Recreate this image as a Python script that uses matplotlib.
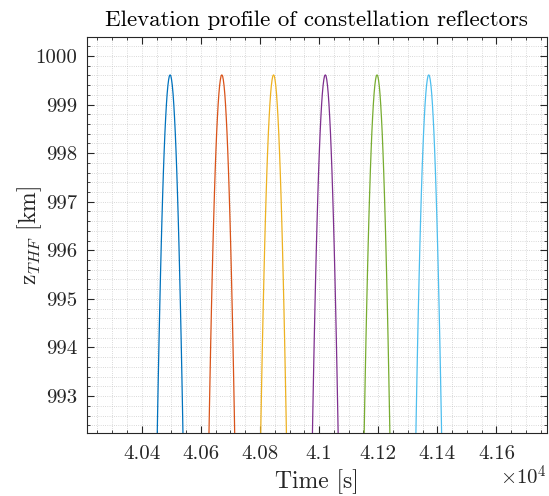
import matplotlib
matplotlib.use("Agg")
import matplotlib.pyplot as plt
from matplotlib.ticker import MultipleLocator, FuncFormatter
import numpy as np

plt.rcParams['font.family'] = 'serif'
plt.rcParams['font.serif'] = ['cmr10', 'DejaVu Serif']
plt.rcParams['mathtext.fontset'] = 'cm'
plt.rcParams['axes.formatter.use_mathtext'] = True

# Peak times of each reflector pass [s]
peak_times = [40496, 40671, 40846, 41021, 41196, 41371]
# Half profile: time offset from peak [s] and elevation [km]
half_offsets = [0, 2.5, 5, 7.5, 10, 12.5, 15, 17.5, 20, 22.5, 25, 27.5, 30,
                32.5, 35, 37.5, 40, 42.5, 45]
half_elev = [999.61, 999.59, 999.51, 999.39, 999.22, 999.00, 998.73, 998.42,
             998.05, 997.64, 997.17, 996.66, 996.10, 995.49, 994.83, 994.13,
             993.37, 992.57, 991.71]
colors = ['#0072BD', '#D95319', '#EDB120', '#7E2F8E', '#77AC30', '#4DBEEE']
xlim = (40214, 41770)
ylim = (992.24, 1000.39)

axc = '#262626'
fig = plt.figure(figsize=(5.49, 4.96), dpi=100)
ax = fig.add_axes([0.158, 0.127, 0.9958 - 0.158, 0.9254 - 0.127])

off = np.concatenate([-np.array(half_offsets[:0:-1]), np.array(half_offsets)])
elev = np.concatenate([np.array(half_elev[:0:-1]), np.array(half_elev)])
for t0, c in zip(peak_times, colors):
    ax.plot(t0 + off, elev, color=c, lw=0.9)

ax.set_xlim(*xlim)
ax.set_ylim(*ylim)
ax.xaxis.set_major_locator(MultipleLocator(200))
ax.xaxis.set_minor_locator(MultipleLocator(50))
ax.yaxis.set_major_locator(MultipleLocator(1))
ax.yaxis.set_minor_locator(MultipleLocator(0.2))
ax.xaxis.set_major_formatter(FuncFormatter(lambda v, p: '%g' % round(v / 1e4, 4)))
ax.yaxis.set_major_formatter(FuncFormatter(lambda v, p: '%g' % round(v, 4)))

ax.grid(which='both', linestyle=':', color='#b8b8b8', lw=0.6, alpha=0.7)
ax.set_axisbelow(True)
ax.tick_params(which='both', direction='in', top=True, right=True, colors=axc,
               labelsize=15, labelcolor=axc)
ax.tick_params(which='major', length=5, width=0.8)
ax.tick_params(axis='x', which='major', pad=9)
ax.tick_params(axis='y', which='major', pad=7)
ax.tick_params(which='minor', length=2.5, width=0.6)
for s in ax.spines.values():
    s.set_color(axc)
    s.set_linewidth(0.8)

ax.set_title('Elevation profile of constellation reflectors', fontsize=16.5, color='black', pad=8)
ax.set_xlabel('Time [s]', fontsize=17, color=axc, labelpad=4)
ax.set_ylabel(r'$\mathrm{z}_{THF}$ [km]', fontsize=17, color=axc, va='center')
ax.yaxis.set_label_coords(-0.125, 0.5)
ax.text(1.0, -0.08, r'$\times10^{4}$', transform=ax.transAxes, ha='right', va='top',
        fontsize=15, color=axc)

fig.savefig('out.png', dpi=100)
